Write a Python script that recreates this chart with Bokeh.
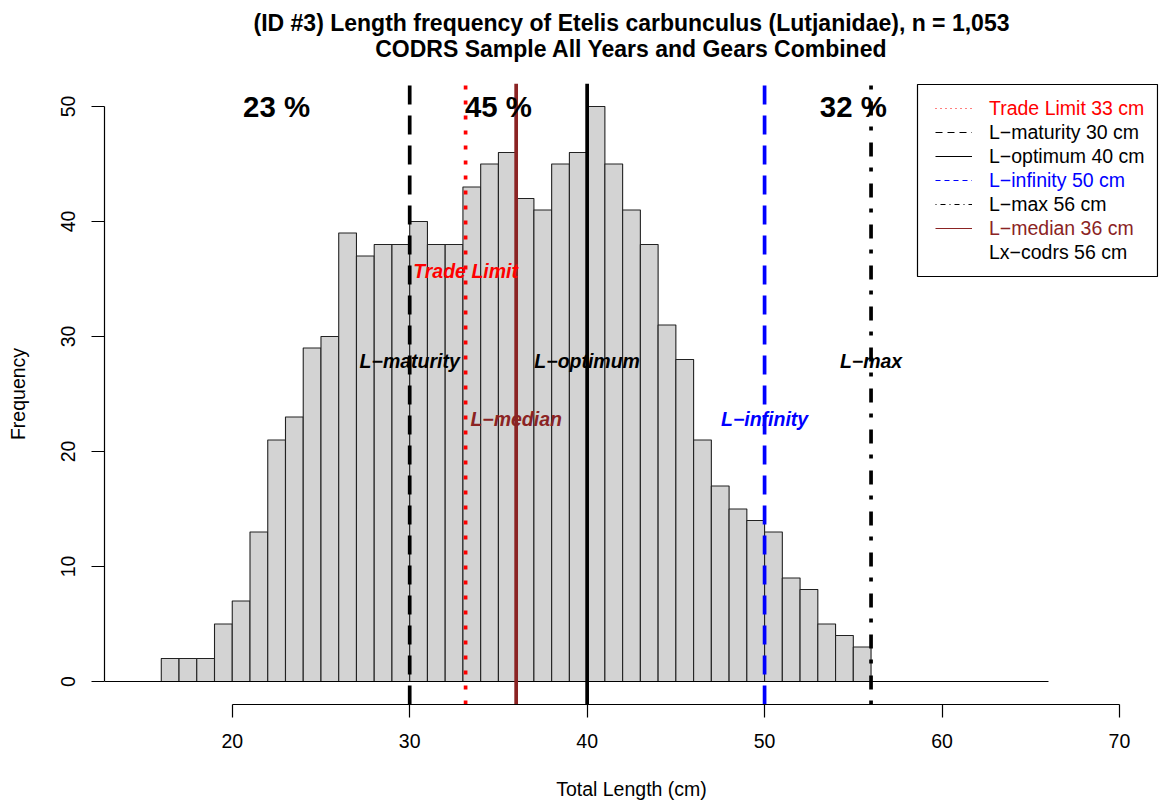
import math
from bokeh.plotting import figure
from bokeh.models import (ColumnDataSource, Range1d, FixedTicker, Legend,
                          LegendItem, BoxAnnotation, Title)
from bokeh.core.properties import value
from bokeh.embed import file_html
from bokeh.resources import INLINE

# ---------------- data ----------------
BIN_START = 16          # first histogram break (cm)
BIN_WIDTH = 1           # break width (cm)
counts = [2, 2, 2, 5, 7, 13, 21, 23, 29, 30,
          39, 37, 38, 38, 40, 38, 38, 43, 45, 46,
          42, 41, 45, 46, 50, 45, 41, 38, 31, 28,
          21, 17, 15, 14, 13, 9, 8, 5, 4, 3]
baseline_end = 66

ref_labels = ["Trade Limit", "L\u2212maturity", "L\u2212optimum", "L\u2212infinity", "L\u2212max", "L\u2212median"]
ref_values = [33.15, 30, 40, 50, 56, 36]
ref_label_y = [35.7, 27.9, 27.9, 22.8, 27.9, 22.8]

pct_text = ["23 %", "45 %", "32 %"]
pct_x = [22.5, 35, 55]
pct_y = [50, 50, 50]

legend_text = ["Trade Limit 33 cm", "L\u2212maturity 30 cm", "L\u2212optimum 40 cm",
               "L\u2212infinity 50 cm", "L\u2212max 56 cm", "L\u2212median 36 cm",
               "Lx\u2212codrs 56 cm"]

x_ticks = [20, 30, 40, 50, 60, 70]
y_ticks = [0, 10, 20, 30, 40, 50]

title1 = "(ID #3) Length frequency of Etelis carbunculus (Lutjanidae), n = 1,053"
title2 = "CODRS Sample All Years and Gears Combined"
xlab = "Total Length (cm)"
ylab = "Frequency"

# ---------------- styles ----------------
FONT = "Liberation Sans"
BROWN = "#8B2323"
ref_colors = ["#FF0000", "#000000", "#000000", "#0000FF", "#000000", BROWN]
ref_dash = ["4 11", "19 11", "solid", "19 11", "4 11 14 12", "solid"]
legend_colors = ["#FF0000", "#000000", "#000000", "#0000FF", "#000000", BROWN, "#000000"]
legend_dash = ["1 4", "7 5", "solid", "5 4", "1 4 5 4", "solid", "solid"]

# frame position in page pixels
FRAME_L, FRAME_R, FRAME_T, FRAME_B = 104, 1158, 83, 704
W, H = 1161, 805

p = figure(width=W, height=H,
           x_range=Range1d(12.8, 72.2), y_range=Range1d(-2, 52),
           output_backend="svg", toolbar_location=None,
           min_border_left=FRAME_L, min_border_right=W - FRAME_R,
           min_border_top=FRAME_T, min_border_bottom=H - FRAME_B)
p.grid.visible = False
p.outline_line_color = None
p.background_fill_color = "white"
p.border_fill_color = "white"

# title: two centred lines (first added sits closest to the plot)
p.add_layout(Title(text=" ", text_font_size="1px", standoff=17), "above")   # spacer
p.add_layout(Title(text=title2, align="center", vertical_align="top", text_font=FONT,
                   text_font_size="23px", text_font_style="bold", text_color="black",
                   standoff=0), "above")
p.add_layout(Title(text=title1, align="center", vertical_align="bottom", text_font=FONT,
                   text_font_size="23px", text_font_style="bold", text_color="black",
                   standoff=0), "above")

# axes
for ax, ticks in ((p.xaxis, x_ticks), (p.yaxis, y_ticks)):
    ax.ticker = FixedTicker(ticks=ticks)
    ax.bounds = (ticks[0], ticks[-1])
    ax.major_tick_out = 13
    ax.major_tick_in = 0
    ax.minor_tick_out = 0
    ax.minor_tick_in = 0
    ax.axis_line_width = 1.2
    ax.major_tick_line_width = 1.2
    ax.axis_line_color = "black"
    ax.major_tick_line_color = "black"
    ax.major_label_text_font = FONT
    ax.major_label_text_font_size = "19.5px"
    ax.major_label_text_color = "black"
    ax.axis_label_text_font = FONT
    ax.axis_label_text_font_size = "19.5px"
    ax.axis_label_text_font_style = "normal"
    ax.axis_label_text_color = "black"
p.xaxis.axis_label = xlab
p.yaxis.axis_label = ylab
p.xaxis.major_label_standoff = 16
p.yaxis.major_label_standoff = 17
p.xaxis.axis_label_standoff = 27
p.yaxis.axis_label_standoff = 29
p.yaxis.major_label_orientation = "vertical"

# histogram bars
lefts = [BIN_START + i * BIN_WIDTH for i in range(len(counts))]
rights = [l + BIN_WIDTH for l in lefts]
bars = ColumnDataSource(dict(left=lefts, right=rights, top=counts, bottom=[0] * len(counts)))
p.quad(left="left", right="right", top="top", bottom="bottom", source=bars,
       fill_color="#D3D3D3", line_color="#222222", line_width=1.1)

# baseline at 0
p.segment(x0=[p.x_range.start], y0=[0], x1=[baseline_end], y1=[0],
          line_color="black", line_width=1.2)

# reference lines
for xv, col, dash in zip(ref_values, ref_colors, ref_dash):
    p.segment(x0=[xv], y0=[p.y_range.start], x1=[xv], y1=[p.y_range.end],
              line_color=col, line_width=3.7, line_dash=dash, line_cap="butt")

# reference line labels
lab_src = ColumnDataSource(dict(x=ref_values, y=ref_label_y, text=ref_labels, color=ref_colors))
p.text(x="x", y="y", text="text", source=lab_src, text_color="color",
       text_font=value(FONT), text_font_style="bold italic", text_font_size="19.5px",
       text_align="center", text_baseline="middle")

# percentage labels
pct_src = ColumnDataSource(dict(x=pct_x, y=pct_y, text=pct_text))
p.text(x="x", y="y", text="text", source=pct_src, text_color="black",
       text_font=value(FONT), text_font_style="bold", text_font_size="29.4px",
       text_align="center", text_baseline="middle")

# legend box
box_l, box_r, box_t, box_b = 917, 1157, 84, 276
p.add_layout(BoxAnnotation(left=box_l - FRAME_L, right=box_r - FRAME_L,
                           top=FRAME_B - box_t, bottom=FRAME_B - box_b,
                           left_units="screen", right_units="screen",
                           top_units="screen", bottom_units="screen",
                           fill_alpha=0, fill_color=None,
                           line_color="black", line_alpha=1.0, line_width=1.2))

# legend entries (one legend per entry for coloured labels)
row0, row_step, row_h = 108.3, 24.0, 24
sample_l = 935
nan = float("nan")
for i, (txt, col, dash) in enumerate(zip(legend_text, legend_colors, legend_dash)):
    alpha = 0 if i == len(legend_text) - 1 else 1
    r = p.line(x=[nan], y=[nan], line_color=col, line_width=1.2, line_dash=dash, line_alpha=alpha)
    rc = row0 + i * row_step
    leg = Legend(items=[LegendItem(label=txt, renderers=[r])],
                 location=(sample_l - FRAME_L, FRAME_B - rc - row_h / 2),
                 padding=0, margin=0, spacing=0,
                 glyph_width=37, glyph_height=row_h, label_height=row_h,
                 label_standoff=17, border_line_color=None,
                 background_fill_alpha=0,
                 label_text_font=FONT, label_text_font_size="19.5px",
                 label_text_color=col)
    p.add_layout(leg)

open("out.html", "w").write(file_html(p, INLINE))
